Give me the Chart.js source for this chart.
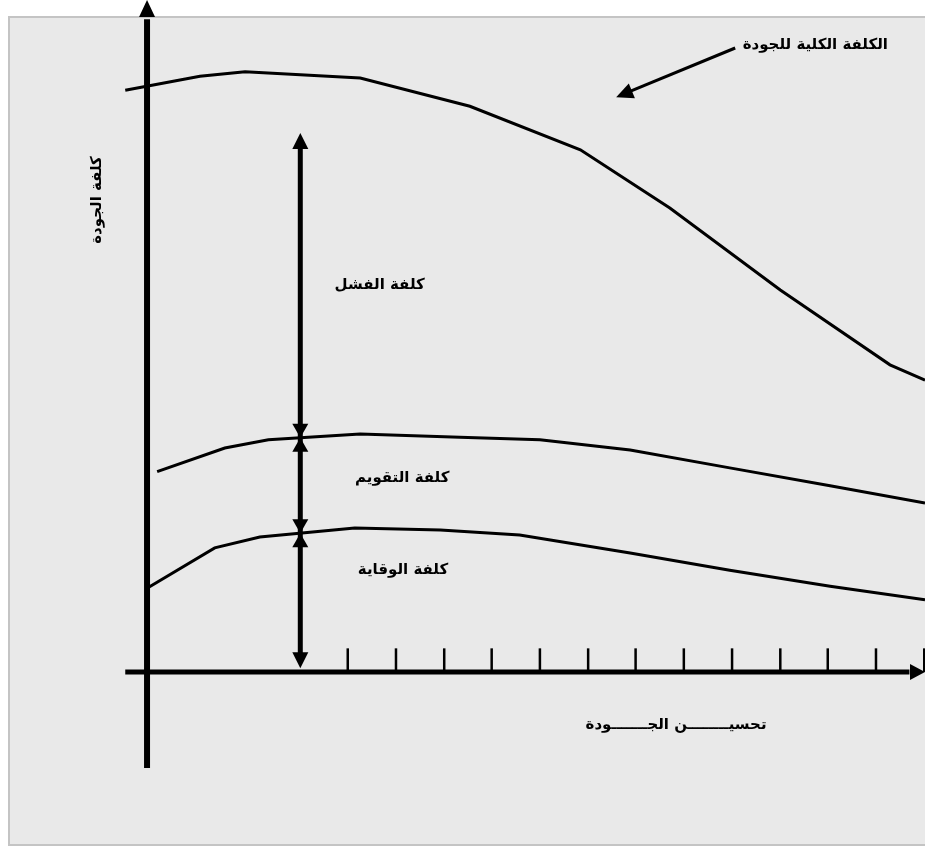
<!DOCTYPE html>
<html>
<head>
<meta charset="utf-8">
<script src="https://cdn.jsdelivr.net/npm/chart.js@4"></script>
<style>
  html, body { margin: 0; padding: 0; background: #fff; }
  #wrap { width: 925px; height: 847px; position: relative; }
</style>
</head>
<body>
<div id="wrap"><canvas id="qualityChart"></canvas></div>
<script>
// x = quality improvement, y = cost of quality (arbitrary units)
const totalX = [-2.8, 6.8, 12.6, 27.4, 41.5, 55.7, 67.2, 81.4, 95.5, 100];
const totalY = [90.9, 93.1, 93.8, 92.8, 88.4, 81.6, 72.5, 59.7, 48.0, 45.6];
const appraisalX = [1.3, 10.0, 15.6, 27.4, 40.2, 50.5, 62.1, 74.9, 87.8, 100];
const appraisalY = [31.3, 35.0, 36.3, 37.2, 36.7, 36.3, 34.7, 31.9, 29.1, 26.4];
const preventionX = [0, 8.7, 14.5, 26.7, 37.7, 47.9, 62.1, 74.9, 87.8, 100];
const preventionY = [13.1, 19.4, 21.1, 22.5, 22.2, 21.4, 18.6, 15.9, 13.4, 11.3];
const xTicks = [25.8, 32.0, 38.2, 44.3, 50.5, 56.7, 62.8, 69.0, 75.2, 81.4, 87.5, 93.7, 99.9];

// the double arrow splitting the cost into its parts
const splitX = 19.7;
const splitStops = [84.2, 36.6, 21.7, 0.6];

const labels = {
    total: 'الكلفة الكلية للجودة',
    yTitle: 'كلفة الجودة',
    failure: 'كلفة الفشل',
    appraisal: 'كلفة التقويم',
    prevention: 'كلفة الوقاية',
    xTitle: 'تحسيــــــــن الجـــــــودة'
};

const toPoints = (xs, ys) => xs.map((x, i) => ({ x: x, y: ys[i] }));

function arrowHead(ctx, x, y, angle, len, half) {
    ctx.save();
    ctx.translate(x, y);
    ctx.rotate(angle);
    ctx.beginPath();
    ctx.moveTo(0, 0);
    ctx.lineTo(-len, -half);
    ctx.lineTo(-len, half);
    ctx.closePath();
    ctx.fill();
    ctx.restore();
}

const sketchPlugin = {
    id: 'sketch',
    beforeDraw(chart) {
        const ctx = chart.ctx;
        ctx.save();
        ctx.fillStyle = '#ffffff';
        ctx.fillRect(0, 0, chart.width, chart.height);
        ctx.fillStyle = '#e9e9e9';
        ctx.fillRect(8, 16, chart.width - 8, chart.height - 17);
        ctx.strokeStyle = '#c4c4c4';
        ctx.lineWidth = 2;
        ctx.strokeRect(9, 17, chart.width + 5, chart.height - 19);
        ctx.restore();
    },
    afterDatasetsDraw(chart) {
        const ctx = chart.ctx;
        const xs = chart.scales.x, ys = chart.scales.y;
        const px = v => xs.getPixelForValue(v);
        const py = v => ys.getPixelForValue(v);
        ctx.save();
        ctx.fillStyle = '#000';
        ctx.strokeStyle = '#000';

        // y axis
        ctx.lineWidth = 6;
        ctx.beginPath();
        ctx.moveTo(px(0), py(-15));
        ctx.lineTo(px(0), py(102));
        ctx.stroke();
        arrowHead(ctx, px(0), py(105), -Math.PI / 2, 17, 8);

        // x axis
        ctx.lineWidth = 5;
        ctx.beginPath();
        ctx.moveTo(px(-2.8), py(0));
        ctx.lineTo(px(98), py(0));
        ctx.stroke();
        arrowHead(ctx, px(100), py(0), 0, 15, 8);

        // ticks
        ctx.lineWidth = 2.5;
        xTicks.forEach(t => {
            ctx.beginPath();
            ctx.moveTo(px(t), py(0));
            ctx.lineTo(px(t), py(3.7));
            ctx.stroke();
        });

        // split arrow
        const sx = px(splitX);
        ctx.lineWidth = 5;
        ctx.beginPath();
        ctx.moveTo(sx, py(splitStops[0]) + 10);
        ctx.lineTo(sx, py(splitStops[3]) - 10);
        ctx.stroke();
        arrowHead(ctx, sx, py(splitStops[0]), -Math.PI / 2, 16, 8);
        arrowHead(ctx, sx, py(splitStops[3]), Math.PI / 2, 16, 8);
        [splitStops[1], splitStops[2]].forEach(s => {
            arrowHead(ctx, sx, py(s), Math.PI / 2, 14, 8);
            arrowHead(ctx, sx, py(s), -Math.PI / 2, 14, 8);
        });

        // pointer to the total curve
        ctx.lineWidth = 3;
        ctx.beginPath();
        ctx.moveTo(px(75.6), py(97.5));
        ctx.lineTo(px(62.0), py(90.7));
        ctx.stroke();
        arrowHead(ctx, px(60.3), py(89.8), Math.atan2(py(89.8) - py(97.5), px(60.3) - px(75.6)), 17, 8);

        // texts
        ctx.font = 'bold 15px "DejaVu Sans"';
        ctx.textAlign = 'center';
        ctx.textBaseline = 'middle';
        ctx.fillText(labels.total, px(85.9), py(98.0));
        ctx.fillText(labels.failure, px(29.9), py(60.5));
        ctx.fillText(labels.appraisal, px(32.8), py(30.3));
        ctx.fillText(labels.prevention, px(32.9), py(15.9));
        ctx.fillText(labels.xTitle, px(68.0), py(-8.3));

        ctx.save();
        ctx.translate(px(-6.4), py(73.75));
        ctx.rotate(-Math.PI / 2);
        ctx.fillText(labels.yTitle, 0, 0);
        ctx.restore();

        ctx.restore();
    }
};

const lineStyle = {
    borderColor: '#000',
    borderWidth: 3,
    pointRadius: 0,
    tension: 0,
    fill: false
};

new Chart(document.getElementById('qualityChart').getContext('2d'), {
    type: 'line',
    data: {
        datasets: [
            Object.assign({ label: labels.total, data: toPoints(totalX, totalY) }, lineStyle),
            Object.assign({ label: labels.appraisal, data: toPoints(appraisalX, appraisalY) }, lineStyle),
            Object.assign({ label: labels.prevention, data: toPoints(preventionX, preventionY) }, lineStyle)
        ]
    },
    options: {
        responsive: true,
        maintainAspectRatio: false,
        animation: false,
        layout: { padding: 0 },
        plugins: {
            legend: { display: false },
            tooltip: { enabled: false }
        },
        scales: {
            x: { type: 'linear', display: false, min: -18.9, max: 100 },
            y: { type: 'linear', display: false, min: -27.34, max: 105 }
        }
    },
    plugins: [sketchPlugin]
});
</script>
</body>
</html>
